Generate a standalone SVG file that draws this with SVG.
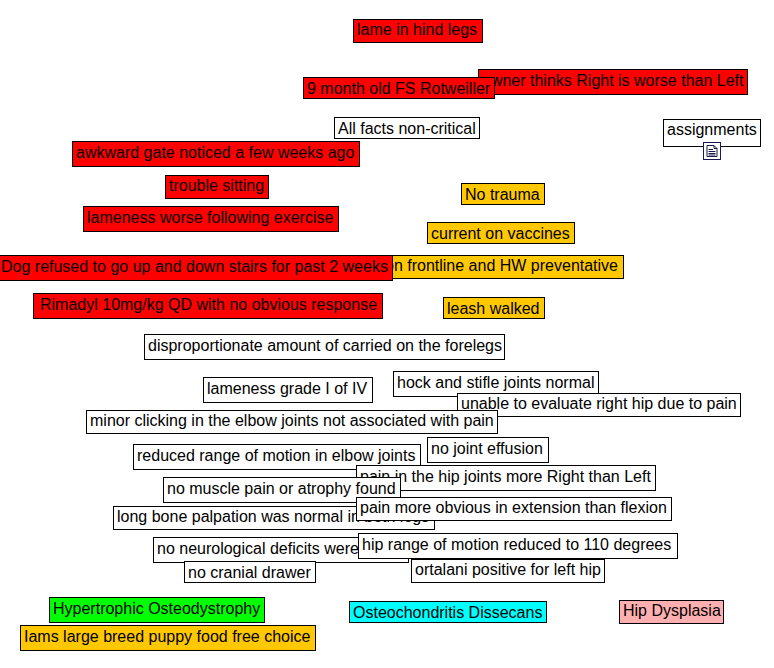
<svg xmlns="http://www.w3.org/2000/svg" width="774" height="668" viewBox="0 0 774 668">
<style>
rect{stroke:#000;stroke-width:1}
text{font-family:"Liberation Sans",Arial,sans-serif;font-size:16px;fill:#000;white-space:pre}
.r{fill:#f00}.w{fill:#fff}.o{fill:#ffc800}.g{fill:#0f0}.c{fill:#0ff}.p{fill:#ffafaf}
</style>
<rect x="0" y="0" width="774" height="668" style="fill:#fff;stroke:none"/>
<g id="n-lame"><rect class="r" x="353.5" y="19.5" width="129" height="23"/><text x="357" y="35">lame in hind legs</text></g>
<g id="n-owner"><rect class="r" x="478.5" y="69.5" width="269" height="25"/><text x="482" y="86">owner thinks Right is worse than Left</text></g>
<g id="n-age"><rect class="r" x="303.5" y="77.5" width="191" height="21"/><text x="307" y="94">9 month old FS Rotweiller</text></g>
<g id="n-facts"><rect class="w" x="334.5" y="117.5" width="145" height="21"/><text x="338" y="134">All facts non-critical</text></g>
<g id="n-assignments"><rect class="w" x="663.5" y="119.5" width="97" height="27"/><text x="667" y="135">assignments</text>
<rect x="703.5" y="142.5" width="17" height="17" style="fill:#fff;stroke:#1a1a50"/><path d="M707 145.500H714L717 148.500V156.500H707ZM714 145.500V148.500H717M708.500 149.500H713M708.500 151.500H715.500M708.500 153.500H715.500M708.500 155H715.500" fill="none" stroke="#1a1a50" stroke-width="1"/></g>
<g id="n-gate"><rect class="r" x="72.500" y="141.500" width="287" height="25"/><text x="76" y="158">awkward gate noticed a few weeks ago</text></g>
<g id="n-sitting"><rect class="r" x="165.500" y="175.500" width="103" height="23"/><text x="169" y="191">trouble sitting</text></g>
<g id="n-exercise"><rect class="r" x="83.500" y="206.500" width="255" height="25"/><text x="87" y="223">lameness worse following exercise</text></g>
<g id="n-frontline"><rect class="o" x="381.500" y="255.500" width="242" height="23"/><text x="385" y="271">on frontline and HW preventative</text></g>
<g id="n-stairs"><rect class="r" x="-1" y="255.500" width="393.500" height="25"/><text x="1" y="272">Dog refused to go up and down stairs for past 2 weeks</text></g>
<g id="n-rimadyl"><rect class="r" x="33.500" y="293.500" width="349" height="25"/><text x="40" y="310">Rimadyl 10mg/kg QD with no obvious response</text></g>
<g id="n-trauma"><rect class="o" x="461.500" y="183.500" width="83" height="21"/><text x="465" y="200">No trauma</text></g>
<g id="n-vaccines"><rect class="o" x="427.500" y="222.500" width="147" height="21"/><text x="431" y="239">current on vaccines</text></g>
<g id="n-leash"><rect class="o" x="443.500" y="297.500" width="101" height="21"/><text x="447" y="314">leash walked</text></g>
<g id="n-forelegs"><rect class="w" x="144.500" y="334.500" width="360" height="25"/><text x="148" y="351">disproportionate amount of carried on the forelegs</text></g>
<g id="n-grade"><rect class="w" x="203.500" y="377.500" width="169" height="25"/><text x="207" y="394">lameness grade I of IV</text></g>
<g id="n-hock"><rect class="w" x="393.500" y="371.500" width="205" height="25"/><text x="397" y="388">hock and stifle joints normal</text></g>
<g id="n-unable"><rect class="w" x="457.500" y="393.500" width="283" height="23"/><text x="461" y="409">unable to evaluate right hip due to pain</text></g>
<g id="n-clicking"><rect class="w" x="86.500" y="410.500" width="411" height="23"/><text x="90" y="426">minor clicking in the elbow joints not associated with pain</text></g>
<g id="n-elbow"><rect class="w" x="133.500" y="444.500" width="287" height="25"/><text x="137" y="461">reduced range of motion in elbow joints</text></g>
<g id="n-effusion"><rect class="w" x="427.500" y="437.500" width="121" height="25"/><text x="431" y="454">no joint effusion</text></g>
<g id="n-hippain"><rect class="w" x="356.500" y="465.500" width="299" height="25"/><text x="360" y="482">pain in the hip joints more Right than Left</text></g>
<g id="n-longbone"><rect class="w" x="113.500" y="506.500" width="321" height="23"/><text x="117" y="522">long bone palpation was normal in both legs</text></g>
<g id="n-muscle"><rect class="w" x="163.500" y="477.500" width="237" height="25"/><text x="167" y="494">no muscle pain or atrophy found</text></g>
<g id="n-extension"><rect class="w" x="356.500" y="497.500" width="315" height="23"/><text x="360" y="513">pain more obvious in extension than flexion</text></g>
<g id="n-neuro"><rect class="w" x="153.500" y="537.500" width="255" height="25"/><text x="157" y="554">no neurological deficits were found</text></g>
<g id="n-cranial"><rect class="w" x="184.500" y="561.500" width="131" height="21"/><text x="188" y="578">no cranial drawer</text></g>
<g id="n-ortalani"><rect class="w" x="411.500" y="559.500" width="193" height="23"/><text x="415" y="575">ortalani positive for left hip</text></g>
<g id="n-hiprange"><rect class="w" x="358.500" y="533.500" width="319" height="25"/><text x="362" y="550">hip range of motion reduced to 110 degrees</text></g>
<g id="n-hod"><rect class="g" x="49.500" y="597.500" width="215" height="25"/><text x="53" y="614">Hypertrophic Osteodystrophy</text></g>
<g id="n-ocd"><rect class="c" x="349.500" y="601.500" width="197" height="21"/><text x="353" y="618">Osteochondritis Dissecans</text></g>
<g id="n-hd"><rect class="p" x="619.500" y="600.500" width="104" height="23"/><text x="623" y="616">Hip Dysplasia</text></g>
<g id="n-iams"><rect class="o" x="20.500" y="625.500" width="295" height="25"/><text x="24" y="642">Iams large breed puppy food free choice</text></g>
</svg>
